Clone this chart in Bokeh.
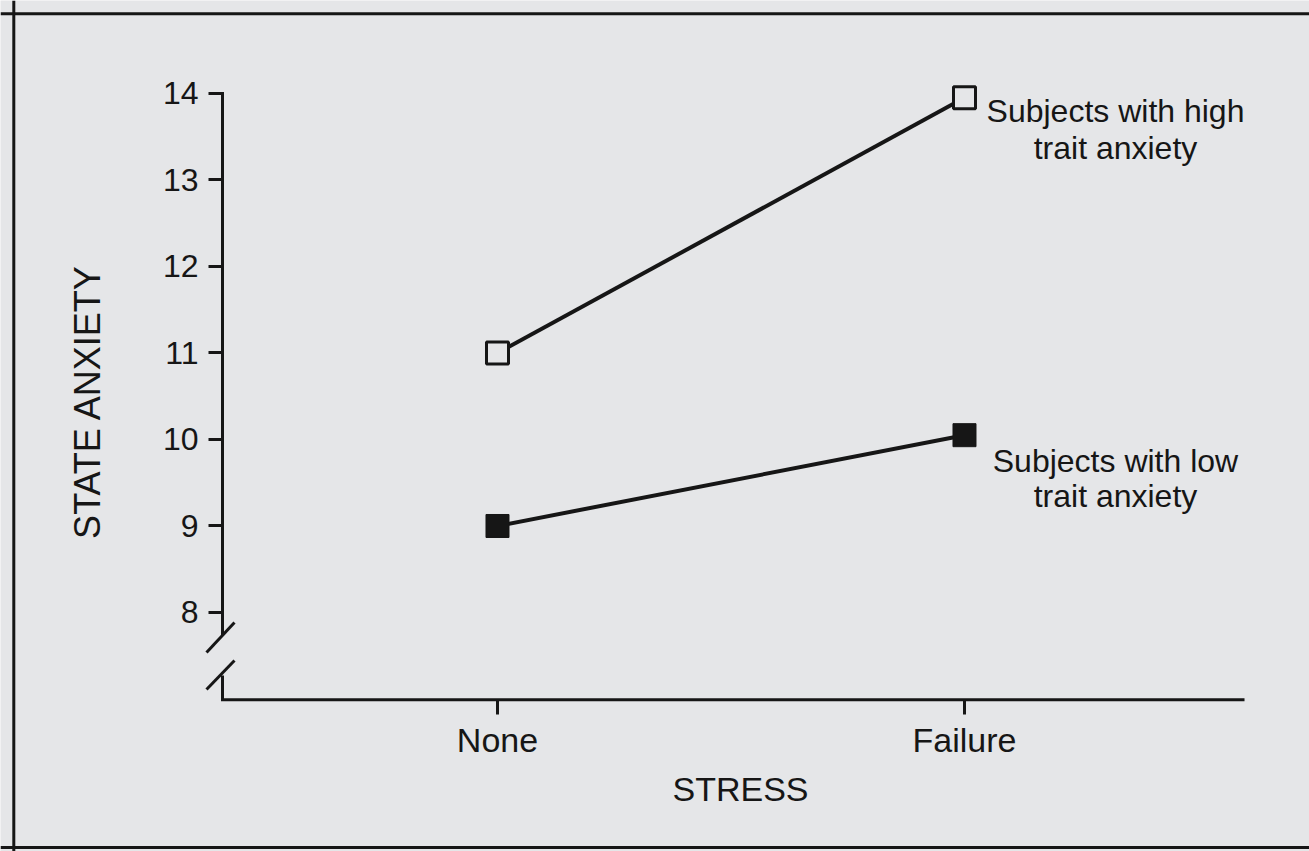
import math
from bokeh.plotting import figure
from bokeh.models import Range1d, Label, Span, FixedTicker
from bokeh.embed import file_html
from bokeh.resources import INLINE

# ---- data ----
stress_levels = ["None", "Failure"]
stress_x = [1, 2]
high_anxiety = [11.0, 13.95]
low_anxiety = [9.0, 10.05]
y_ticks = [8, 9, 10, 11, 12, 13, 14]
high_label = ["Subjects with high", "trait anxiety"]
low_label = ["Subjects with low", "trait anxiety"]
x_title = "STRESS"
y_title = "STATE ANXIETY"

BG = "#e5e6e8"
INK = "#161616"
FONT = "Liberation Sans"

p = figure(width=1309, height=851,
           x_range=Range1d(-0.06424, 2.73876),
           y_range=Range1d(5.23699, 15.07514),
           output_backend="svg", toolbar_location=None, title=None,
           min_border=0)
p.background_fill_color = BG
p.border_fill_color = BG
p.outline_line_color = None
p.grid.visible = False

Y_AX = 0.41113   # x position of the y axis
X_AX = 6.99      # y position of the x axis

# y axis
ya = p.yaxis[0]
ya.fixed_location = Y_AX
ya.ticker = FixedTicker(ticks=y_ticks)
ya.axis_line_color = None
ya.major_tick_out = 14
ya.major_tick_in = 0
ya.major_tick_line_width = 3
ya.major_tick_line_color = INK
ya.minor_tick_line_color = None
ya.major_label_text_font = FONT
ya.major_label_text_font_size = "32px"
ya.major_label_text_color = INK
ya.major_label_standoff = 10

# x axis
xa = p.xaxis[0]
xa.fixed_location = X_AX
xa.ticker = FixedTicker(ticks=stress_x)
xa.major_label_overrides = {x: s for x, s in zip(stress_x, stress_levels)}
xa.axis_line_color = None
xa.major_tick_out = 15
xa.major_tick_in = 0
xa.major_tick_line_width = 3
xa.major_tick_line_color = INK
xa.minor_tick_line_color = None
xa.major_label_text_font = FONT
xa.major_label_text_font_size = "34px"
xa.major_label_text_color = INK
xa.major_label_standoff = 6

# axis lines with a break on the y axis
p.line([Y_AX, Y_AX, 2.5996], [7.272, X_AX, X_AX], line_width=3, color=INK, line_join="miter")
p.line([Y_AX, Y_AX], [14, 7.757], line_width=3, color=INK, line_cap="square")
p.segment(x0=[0.3769, 0.3769], y0=[7.5376, 7.1098], x1=[0.4368, 0.4368], y1=[7.8844, 7.4451],
          line_width=3, color=INK)

# border of the figure panel
p.add_layout(Span(location=-0.03576, dimension="height", line_color=INK, line_width=3))
p.add_layout(Span(location=14.9214, dimension="width", line_color=INK, line_width=3))
p.add_layout(Span(location=5.2832, dimension="width", line_color=INK, line_width=3))

# series
p.line(stress_x, high_anxiety, line_width=4, color=INK)
p.line(stress_x, low_anxiety, line_width=4, color=INK)
p.scatter(stress_x, high_anxiety, marker="square", size=22, fill_color=BG, line_color=INK, line_width=3)
p.scatter(stress_x, low_anxiety, marker="square", size=23, fill_color=INK, line_color=INK, line_width=1)

# series annotations
def add_label(text, x, y, xo, yo, size="32px"):
    p.add_layout(Label(x=x, y=y, x_offset=xo, y_offset=yo, text=text, text_align="center",
                       text_baseline="alphabetic", text_font=FONT, text_font_size=size,
                       text_color=INK))

add_label(high_label[0], stress_x[1], high_anxiety[1], 151, -12.7)
add_label(high_label[1], stress_x[1], high_anxiety[1], 151, -49.7)
add_label(low_label[0], stress_x[1], low_anxiety[1], 151, -25.8)
add_label(low_label[1], stress_x[1], low_anxiety[1], 151, -60.8)

# axis titles
p.add_layout(Label(x=1.5203, y=5.9538, text=x_title, text_align="center", text_baseline="middle",
                   text_font=FONT, text_font_size="34px", text_color=INK))
p.add_layout(Label(x=0.12206, y=10.439, text=y_title, angle=math.pi / 2, text_align="center",
                   text_baseline="middle", text_font=FONT, text_font_size="36px", text_color=INK))

open("out.html", "w").write(file_html(p, INLINE))
